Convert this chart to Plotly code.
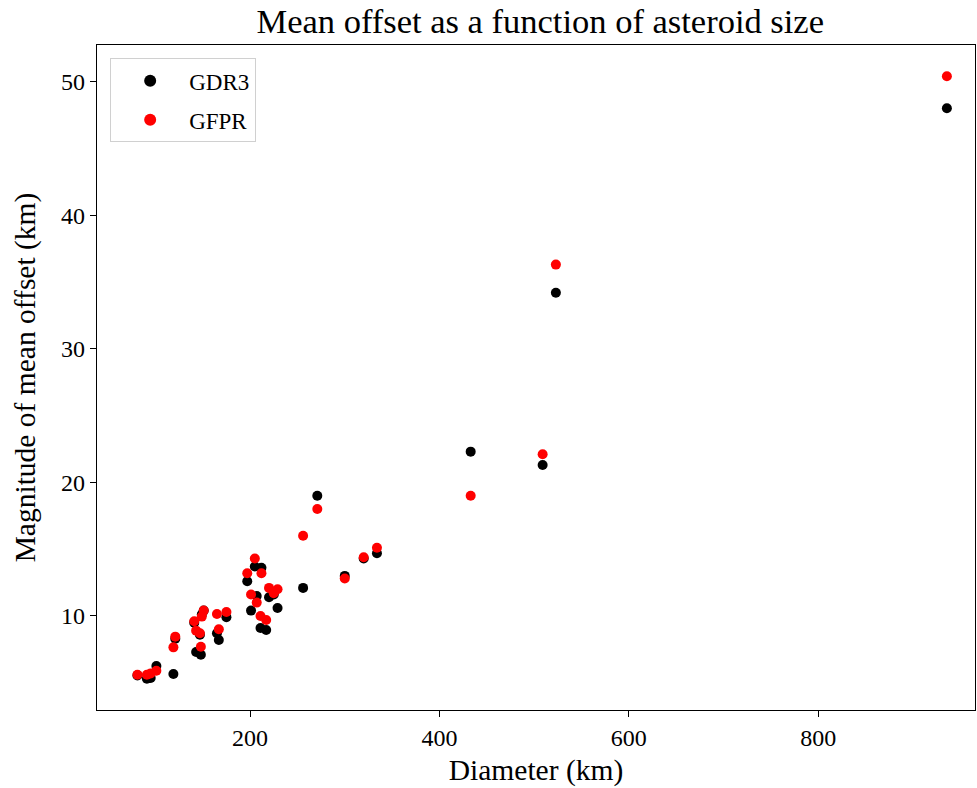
import plotly.graph_objects as go

# Diameter (km) of each asteroid, shared by both catalogues
diameter = [936, 523, 433, 509, 271, 256, 334, 320, 300, 205, 212, 197, 229, 220, 207, 201,
            211, 217, 225, 151, 149, 141, 147, 143, 175, 165, 167, 121, 119, 148, 101, 95, 91, 81]
# Magnitude of mean offset (km)
gdr3 = [48.0, 34.2, 22.3, 21.3, 19.0, 12.1, 14.7, 14.3, 13.0, 13.7, 13.6, 12.6, 10.6, 11.4, 11.5, 10.4,
        9.1, 8.95, 11.6, 10.4, 10.1, 9.5, 8.6, 7.3, 9.9, 8.7, 8.2, 8.3, 5.65, 7.1, 6.25, 5.35, 5.3, 5.55]
gfpr = [50.4, 36.3, 19.0, 22.1, 18.0, 16.0, 15.1, 14.4, 12.8, 14.3, 13.2, 13.2, 12.0, 12.1, 11.0, 11.6,
        10.0, 9.7, 11.7, 10.4, 9.95, 9.6, 8.7, 8.9, 10.3, 10.15, 9.0, 8.45, 7.65, 7.7, 5.9, 5.7, 5.6, 5.6]

x_ticks = [200, 400, 600, 800]
y_ticks = [10, 20, 30, 40, 50]

font_family = "Liberation Serif, Times New Roman, serif"

fig = go.Figure()
fig.add_trace(go.Scatter(x=diameter, y=gdr3, mode="markers", name="GDR3", legendgroup="a",
                         marker=dict(color="black", size=10)))
fig.add_trace(go.Scatter(x=diameter, y=gfpr, mode="markers", name="GFPR", legendgroup="b",
                         marker=dict(color="red", size=10)))

axis_common = dict(showline=True, mirror=True, linecolor="black", linewidth=1.2,
                   ticks="outside", ticklen=6, tickcolor="black", showgrid=False,
                   zeroline=False, tickfont=dict(size=24, color="black"))

fig.update_layout(
    width=977, height=788,
    paper_bgcolor="white", plot_bgcolor="white",
    font=dict(family=font_family, color="black"),
    margin=dict(l=97, r=2, t=45, b=78),
    title=dict(text="Mean offset as a function of asteroid size", x=0.553, xanchor="center",
               xref="container", yref="container",
               y=1 - 21 / 788, yanchor="middle", font=dict(size=34.5)),
    xaxis=dict(range=[38.3, 965.7], tickvals=x_ticks,
               title=dict(text="Diameter (km)", font=dict(size=29.5), standoff=9), **axis_common),
    yaxis=dict(range=[2.96, 52.74], tickvals=y_ticks,
               title=dict(text="Magnitude of mean offset (km)", font=dict(size=29.5), standoff=16),
               **axis_common),
    legend=dict(x=0.015, y=0.98, xanchor="left", yanchor="top",
                bgcolor="white", bordercolor="#d0d0d0", borderwidth=1,
                font=dict(size=23), itemsizing="constant", itemwidth=68,
                tracegroupgap=6, traceorder="grouped"),
    showlegend=True,
)

fig.write_html("out.html", config={"displayModeBar": False},
               post_script="document.body.style.margin='0';document.body.style.overflow='hidden';")
